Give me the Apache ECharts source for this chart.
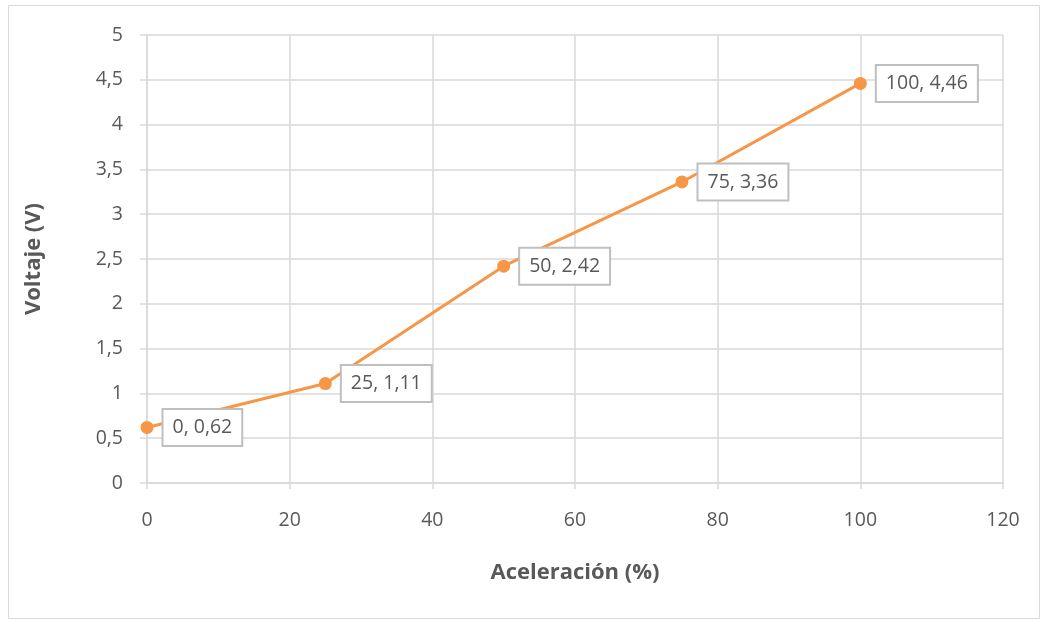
<!DOCTYPE html>
<html>
<head>
<meta charset="utf-8">
<script src="https://cdn.jsdelivr.net/npm/echarts@6/dist/echarts.min.js"></script>
<style>
  html, body { margin: 0; padding: 0; background: #fff; }
  #chart { width: 1047px; height: 621px; }
</style>
</head>
<body>
<div id="chart"></div>
<script>
// Accelerator position (%) vs. sensor output voltage (V)
const acceleration = [0, 25, 50, 75, 100];
const voltage = [0.62, 1.11, 2.42, 3.36, 4.46];

const xAxisName = 'Aceleración (%)';
const yAxisName = 'Voltaje (V)';

const fmt = v => String(v).replace('.', ',');
const points = acceleration.map((a, i) => [a, voltage[i]]);

const FONT = 'Open Sans';
const TEXT = '#595959';
const GRID = '#d9d9d9';
const ORANGE = '#F79646';

const chart = echarts.init(document.getElementById('chart'), null, { renderer: 'canvas' });
chart.setOption({
  animation: false,
  backgroundColor: '#fff',
  graphic: [{
    type: 'rect',
    shape: { x: 8.5, y: 5.5, width: 1031, height: 613 },
    style: { fill: 'none', stroke: GRID, lineWidth: 1 },
    silent: true
  }],
  grid: { left: 147, right: 44, top: 35, bottom: 138, containLabel: false },
  xAxis: {
    type: 'value', min: 0, max: 120, interval: 20,
    name: xAxisName, nameLocation: 'middle', nameGap: 79,
    nameTextStyle: { color: TEXT, fontSize: 22, fontWeight: 'bold', fontFamily: FONT },
    axisLine: { show: true, lineStyle: { color: GRID, width: 1.5 } },
    axisTick: { show: true, length: 6, lineStyle: { color: GRID, width: 1.5 } },
    axisLabel: { color: TEXT, fontSize: 19.5, margin: 27, fontFamily: FONT, formatter: fmt },
    splitLine: { show: true, lineStyle: { color: GRID, width: 1.5 } }
  },
  yAxis: {
    type: 'value', min: 0, max: 5, interval: 0.5,
    name: yAxisName, nameLocation: 'middle', nameGap: 102, nameRotate: 90,
    nameTextStyle: { color: TEXT, fontSize: 22, fontWeight: 'bold', fontFamily: FONT },
    axisLine: { show: true, lineStyle: { color: GRID, width: 1.5 } },
    axisTick: { show: true, length: 7, lineStyle: { color: GRID, width: 1.5 } },
    axisLabel: { color: TEXT, fontSize: 19.5, margin: 24, fontFamily: FONT, formatter: fmt },
    splitLine: { show: true, lineStyle: { color: GRID, width: 1.5 } }
  },
  series: [{
    type: 'line',
    data: points,
    symbol: 'circle',
    symbolSize: 13,
    itemStyle: { color: ORANGE },
    lineStyle: { color: ORANGE, width: 3 },
    label: {
      show: true,
      position: 'right',
      distance: 10,
      color: TEXT,
      fontSize: 19.5,
      lineHeight: 22,
      fontFamily: FONT,
      backgroundColor: '#fff',
      borderColor: '#BFBFBF',
      borderWidth: 2,
      padding: [7, 9, 6, 9],
      formatter: p => p.value[0] + ', ' + fmt(p.value[1])
    }
  }]
});
</script>
</body>
</html>
